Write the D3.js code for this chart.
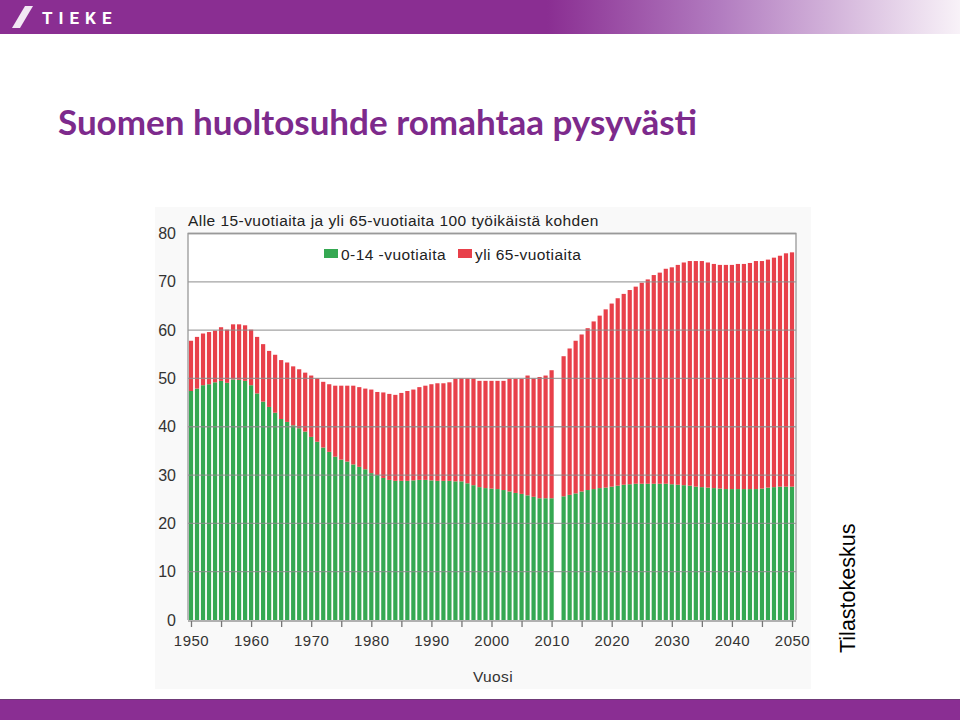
<!DOCTYPE html>
<html>
<head>
<meta charset="utf-8">
<script src="https://cdn.jsdelivr.net/npm/d3@7"></script>
<style>
  body { margin: 0; background: #fff; }
  svg { display: block; }
</style>
</head>
<body>
<svg id="slide" width="960" height="720"></svg>
<script>
// vuodet 1950-2050, 2011 puuttuu kuvasta
let years = d3.range(1950, 2051);

// 0-14 -vuotiaat / 100 työikäistä
let young = [
  47.4, 47.9, 48.6, 48.8, 49.2, 49.5, 49.1, 49.8, 49.7, 49.5,
  48.6, 46.9, 45.2, 44.1, 42.9, 41.6, 41.0, 40.3, 39.7, 39.0,
  37.9, 36.9, 35.7, 34.8, 33.8, 33.2, 32.8, 32.2, 31.7, 31.2,
  30.4, 30.0, 29.4, 29.0, 28.8, 28.8, 28.8, 28.9, 29.0, 29.0,
  28.9, 28.8, 28.8, 28.8, 28.7, 28.7, 28.3, 27.9, 27.5, 27.3,
  27.2, 27.1, 26.9, 26.6, 26.3, 26.1, 25.8, 25.5, 25.2, 25.2,
  25.2, null, 25.6, 25.9, 26.2, 26.6, 26.9, 27.1, 27.3, 27.4,
  27.6, 27.8, 28.0, 28.1, 28.2, 28.2, 28.2, 28.2, 28.2, 28.2,
  28.1, 28.0, 27.9, 27.8, 27.6, 27.5, 27.4, 27.3, 27.2, 27.1,
  27.1, 27.1, 27.1, 27.1, 27.1, 27.2, 27.4, 27.5, 27.6, 27.6,
  27.6
];

// yli 65-vuotiaat / 100 työikäistä
let old = [
  10.4, 10.7, 10.7, 10.8, 10.7, 11.1, 11.0, 11.4, 11.5, 11.5,
  11.5, 11.7, 11.9, 11.6, 12.0, 12.2, 12.3, 12.2, 12.2, 12.2,
  12.7, 13.1, 13.6, 14.0, 14.7, 15.3, 15.7, 16.3, 16.5, 16.7,
  17.3, 17.2, 17.7, 17.8, 17.8, 18.2, 18.6, 18.8, 19.2, 19.5,
  19.9, 20.2, 20.2, 20.4, 21.2, 21.3, 21.7, 22.1, 22.0, 22.2,
  22.3, 22.4, 22.6, 23.3, 23.6, 23.8, 24.8, 24.5, 25.1, 25.4,
  26.5, null, 29.0, 30.3, 31.6, 32.5, 33.5, 34.7, 35.7, 36.9,
  37.9, 38.8, 39.5, 40.2, 40.8, 41.6, 42.3, 43.2, 43.7, 44.5,
  44.9, 45.5, 46.1, 46.5, 46.7, 46.8, 46.6, 46.4, 46.3, 46.4,
  46.4, 46.6, 46.6, 46.8, 47.2, 47.1, 47.2, 47.5, 47.8, 48.3,
  48.5
];

let seriesNames = ["0-14 -vuotiaita", "yli 65-vuotiaita"];
let seriesColors = ["#35a852", "#e8404a"];
let yTicks = [0, 10, 20, 30, 40, 50, 60, 70, 80];
let xMinorTicks = d3.range(1950, 2051, 5);

let svg = d3.select("#slide");

// --- header bar
let defs = svg.append("defs");
let grad = defs.append("linearGradient").attr("id", "hdr");
grad.append("stop").attr("offset", "0%").attr("stop-color", "#8a2e92");
grad.append("stop").attr("offset", "57%").attr("stop-color", "#8a2e92");
grad.append("stop").attr("offset", "75%").attr("stop-color", "#b27cc0");
grad.append("stop").attr("offset", "100%").attr("stop-color", "#f8f2f8");

svg.append("rect").attr("x", 0).attr("y", 0).attr("width", 960).attr("height", 34)
  .attr("fill", "url(#hdr)");
svg.append("path").attr("d", "M12,28 L25,6 L33,6 L20,28 Z").attr("fill", "#f2e8f4");
svg.append("text").attr("x", 42).attr("y", 24)
  .attr("font-family", "Roboto, 'DejaVu Sans', sans-serif")
  .attr("font-weight", "bold").attr("font-size", 17)
  .attr("letter-spacing", 6).attr("fill", "#fff").text("TIEKE");

// --- footer bar
svg.append("rect").attr("x", 0).attr("y", 699).attr("width", 960).attr("height", 21)
  .attr("fill", "#8a2e93");
svg.append("line").attr("x1", 0).attr("x2", 960).attr("y1", 699.5).attr("y2", 699.5)
  .attr("stroke", "#6f3a78").attr("stroke-width", 1);

// --- title
svg.append("text").attr("x", 58).attr("y", 135)
  .attr("font-family", "Lato, 'Open Sans', sans-serif")
  .attr("font-weight", "bold").attr("font-size", 35)
  .attr("fill", "#7d2a8c").text("Suomen huoltosuhde romahtaa pysyvästi");

// --- chart image background
svg.append("rect").attr("x", 155).attr("y", 207).attr("width", 656).attr("height", 482)
  .attr("fill", "#f9f9f9");

let x = d3.scaleLinear().domain([1950, 2050]).range([191, 792]);
let y = d3.scaleLinear().domain([0, 80]).range([620, 233.5]);
let plotLeft = 188, plotRight = 796;
let barW = 4.2;

let font = "'Liberation Sans', Arial, sans-serif";

svg.append("rect").attr("x", plotLeft).attr("y", y(80))
  .attr("width", plotRight - plotLeft).attr("height", y(0) - y(80))
  .attr("fill", "#fff");

// stacked bars
let rows = years.map((yr, i) => ({year: yr, young: young[i], old: old[i]}))
  .filter(d => d.young != null);

let bars = svg.append("g");
bars.selectAll("rect.young").data(rows).enter().append("rect")
  .attr("x", d => x(d.year) - barW / 2)
  .attr("width", barW)
  .attr("y", d => y(d.young))
  .attr("height", d => y(0) - y(d.young))
  .attr("fill", seriesColors[0]);
bars.selectAll("rect.old").data(rows).enter().append("rect")
  .attr("x", d => x(d.year) - barW / 2)
  .attr("width", barW)
  .attr("y", d => y(d.young + d.old))
  .attr("height", d => y(d.young) - y(d.young + d.old))
  .attr("fill", seriesColors[1]);

// gridlines drawn over bars like in the original
svg.append("g").selectAll("line").data(yTicks.filter(t => t > 0)).enter().append("line")
  .attr("x1", plotLeft).attr("x2", plotRight)
  .attr("y1", d => y(d)).attr("y2", d => y(d))
  .attr("stroke", "#8c8c8c").attr("stroke-opacity", 0.8).attr("stroke-width", 1.3);

// frame
svg.append("path")
  .attr("d", `M${plotLeft},${y(0)} V${y(80)} H${plotRight} V${y(0)}`)
  .attr("fill", "none").attr("stroke", "#999").attr("stroke-width", 1.3);
svg.append("line").attr("x1", plotLeft).attr("x2", plotRight)
  .attr("y1", y(0) + 1).attr("y2", y(0) + 1).attr("stroke", "#999").attr("stroke-width", 1.3);

// y axis labels
let yAxis = svg.append("g").attr("transform", `translate(${plotLeft - 12},0)`)
  .call(d3.axisLeft(y).tickValues(yTicks).tickSize(0).tickPadding(0));
yAxis.select(".domain").remove();
yAxis.selectAll("text").attr("font-family", font).attr("font-size", 16).attr("fill", "#333");

// x axis
let xAxis = svg.append("g").attr("transform", `translate(0,${y(0) + 1})`)
  .call(d3.axisBottom(x).tickValues(xMinorTicks).tickSize(6).tickPadding(8)
    .tickFormat(d => d % 10 === 0 ? d : ""));
xAxis.select(".domain").remove();
xAxis.selectAll("line").attr("stroke", "#777").attr("stroke-width", 1.3);
xAxis.selectAll("text").attr("font-family", font).attr("font-size", 15)
  .attr("fill", "#333").attr("letter-spacing", 0.5);

svg.append("text").attr("x", 493).attr("y", 682).attr("text-anchor", "middle")
  .attr("font-family", font).attr("font-size", 15.5).attr("fill", "#333")
  .attr("letter-spacing", 0.4).text("Vuosi");

// chart subtitle
svg.append("text").attr("x", 188).attr("y", 226)
  .attr("font-family", font).attr("font-size", 15.5).attr("fill", "#222")
  .attr("letter-spacing", 0.45)
  .text("Alle 15-vuotiaita ja yli 65-vuotiaita 100 työikäistä kohden");

// legend
let legendX = [324, 458];
let legend = svg.append("g").selectAll("g").data(seriesNames).enter().append("g")
  .attr("transform", (d, i) => `translate(${legendX[i]},249)`);
legend.append("rect").attr("width", 14).attr("height", 9)
  .attr("fill", (d, i) => seriesColors[i]);
legend.append("text").attr("x", 17).attr("y", 11)
  .attr("font-family", font).attr("font-size", 15.5).attr("fill", "#222")
  .attr("letter-spacing", 0.45)
  .text(d => d);

// source
svg.append("text").attr("transform", "translate(855,653) rotate(-90)")
  .attr("font-family", font).attr("font-size", 21.5).attr("fill", "#000")
  .text("Tilastokeskus");
</script>
</body>
</html>
